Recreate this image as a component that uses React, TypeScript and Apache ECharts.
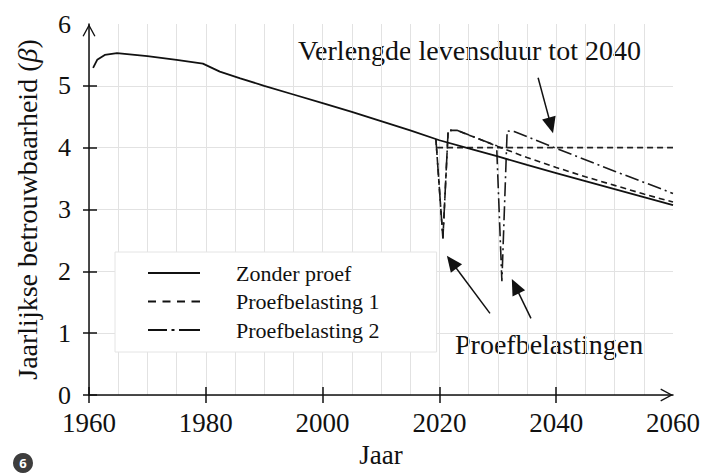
import React, { useEffect, useRef } from "react";
import * as echarts from "echarts";

const SERIF = "Liberation Serif, Times New Roman, serif";

// Data
const baseYears = [1960.7, 1961.4, 1962.7, 1964.8, 1970, 1975, 1979.5, 1982.4, 1985.9, 1990, 1995, 2000, 2005, 2010, 2015, 2020, 2025, 2030, 2035, 2040, 2045, 2050, 2055, 2060];
const zonderProef = [5.29, 5.42, 5.5, 5.53, 5.48, 5.42, 5.36, 5.23, 5.12, 5.0, 4.86, 4.72, 4.58, 4.43, 4.28, 4.12, 3.99, 3.86, 3.72, 3.59, 3.46, 3.33, 3.2, 3.07];

const p1Years = [2019.4, 2020.6, 2021.5, 2023.0, 2030, 2035, 2040, 2045, 2050, 2055, 2060];
const proefbelasting1 = [4.14, 2.53, 4.28, 4.28, 4.02, 3.84, 3.68, 3.53, 3.39, 3.25, 3.12];

const p2Years = [2019.4, 2020.6, 2021.5, 2023.0, 2029.8, 2030.7, 2031.6, 2032.8, 2040, 2050, 2060];
const proefbelasting2 = [4.14, 2.53, 4.28, 4.28, 4.03, 1.84, 4.27, 4.26, 3.99, 3.62, 3.26];

const normYears = [2019.6, 2060];
const normLevel = [4.0, 4.0];

const xTickInterval = 20;
const yTickInterval = 1;
const xTickValues = [1960, 1980, 2000, 2020, 2040];
const yTickValues = [0, 1, 2, 3, 4, 5];

const seriesNames = ["Zonder proef", "Proefbelasting 1", "Proefbelasting 2"];

// annotation arrows [from, to] in data coordinates
const arrowsFrom = [[2036.9, 5.13], [2028.66, 1.32], [2035.68, 1.24]];
const arrowsTo = [[2039.1, 4.36], [2022.1, 2.15], [2033.0, 1.76]];

const zip = (xs: number[], ys: number[]) => xs.map((x, i) => [x, ys[i]]);

const CHEVRON = "path://M0,0 L6.5,12 L5.3,12.6 L0,2.7 L-5.3,12.6 L-6.5,12 Z";
const ICON_SOLID = "path://M0,0 H52 V1.8 H0 Z";
const ICON_DASH = "path://M0,0 H8 V1.8 H0 Z M14.5,0 H22.5 V1.8 H14.5 Z M29,0 H37 V1.8 H29 Z M43.5,0 H52 V1.8 H43.5 Z";
const ICON_DASHDOT = "path://M0,0 H19 V1.8 H0 Z M23.5,0 H26.5 V1.8 H23.5 Z M31,0 H52 V1.8 H31 Z";

export default function App() {
  const ref = useRef<HTMLDivElement>(null);
  useEffect(() => {
    if (!ref.current) return;
    const chart = echarts.init(ref.current, undefined, { renderer: "svg" });
    const axisColor = "#111";
    const gridColor = "#e2e2e2";
    const option: any = {
      animation: false,
      backgroundColor: "#ffffff",
      textStyle: { fontFamily: SERIF },
      grid: { left: 89, right: 30, top: 24, bottom: 72, containLabel: false },
      legend: {
        data: [
          { name: seriesNames[0], icon: ICON_SOLID },
          { name: seriesNames[1], icon: ICON_DASH },
          { name: seriesNames[2], icon: ICON_DASHDOT },
        ],
        orient: "vertical",
        left: 115,
        top: 252,
        itemWidth: 52,
        itemHeight: 14,
        itemGap: 6.5,
        padding: [10, 57, 11, 33],
        backgroundColor: "#ffffff",
        borderColor: "#e4e4e4",
        borderWidth: 1,
        selectedMode: false,
        itemStyle: { color: "#111", borderWidth: 0 },
        lineStyle: { width: 0 },
        textStyle: { fontFamily: SERIF, fontSize: 22, color: "#111", padding: [0, 0, 0, 31] },
      },
      xAxis: [
        {
          type: "value",
          min: 1960,
          max: 2060,
          interval: xTickInterval,
          position: "bottom",
          name: "Jaar",
          nameLocation: "middle",
          nameGap: 46,
          nameTextStyle: { fontFamily: SERIF, fontSize: 27, color: axisColor },
          axisLine: {
            show: true,
            onZero: false,
            lineStyle: { color: axisColor, width: 1.5 },
            symbol: ["none", CHEVRON],
            symbolSize: [13, 12.6],
            symbolOffset: [0, -6.3],
          },
          axisTick: { show: true, length: 8, customValues: xTickValues, lineStyle: { color: axisColor, width: 1.5 } },
          axisLabel: {
            fontFamily: SERIF,
            fontSize: 27,
            color: axisColor,
            margin: 14,
            formatter: (v: number) => String(v),
          },
          splitLine: { show: true, lineStyle: { color: gridColor, width: 1 } },
          minorTick: { show: false, splitNumber: 4 },
          minorSplitLine: { show: true, lineStyle: { color: gridColor, width: 1 } },
        },
        {
          type: "value",
          min: 1960,
          max: 2060,
          interval: xTickInterval,
          position: "bottom",
          offset: 0,
          axisLine: { show: false },
          axisTick: { show: true, inside: true, length: 8, customValues: xTickValues, lineStyle: { color: axisColor, width: 1.5 } },
          axisLabel: { show: false },
          splitLine: { show: false },
        },
      ],
      yAxis: [
        {
          type: "value",
          min: 0,
          max: 6,
          interval: yTickInterval,
          position: "left",
          name: "Jaarlijkse betrouwbaarheid ({i|β})",
          nameLocation: "middle",
          nameGap: 48,
          nameRotate: 90,
          nameTextStyle: {
            fontFamily: SERIF,
            fontSize: 28,
            color: axisColor,
            rich: { i: { fontFamily: SERIF, fontSize: 28, fontStyle: "italic", color: axisColor } },
          },
          axisLine: {
            show: true,
            onZero: false,
            lineStyle: { color: axisColor, width: 1.5 },
            symbol: ["none", CHEVRON],
            symbolSize: [13, 12.6],
            symbolOffset: [0, -6.3],
          },
          axisTick: { show: true, length: 6, customValues: yTickValues, lineStyle: { color: axisColor, width: 1.5 } },
          axisLabel: { fontFamily: SERIF, fontSize: 26, color: axisColor, margin: 18 },
          splitLine: { show: true, lineStyle: { color: gridColor, width: 1 } },
        },
        {
          type: "value",
          min: 0,
          max: 6,
          interval: yTickInterval,
          position: "left",
          offset: 0,
          axisLine: { show: false },
          axisTick: { show: true, inside: true, length: 8, customValues: yTickValues, lineStyle: { color: axisColor, width: 1.5 } },
          axisLabel: { show: false },
          splitLine: { show: false },
        },
      ],
      series: [
        {
          name: "Norm",
          type: "line",
          data: zip(normYears, normLevel),
          showSymbol: false,
          symbol: "none",
          silent: true,
          lineStyle: { color: "#222", width: 1.6, type: [6, 4] },
          z: 3,
        },
        {
          name: seriesNames[2],
          type: "line",
          data: zip(p2Years, proefbelasting2),
          showSymbol: false,
          symbol: "none",
          color: "#1a1a1a",
          lineStyle: { color: "#1a1a1a", width: 1.6, type: [14, 4, 2, 4] },
          z: 4,
        },
        {
          name: seriesNames[1],
          type: "line",
          data: zip(p1Years, proefbelasting1),
          showSymbol: false,
          symbol: "none",
          color: "#1a1a1a",
          lineStyle: { color: "#1a1a1a", width: 1.6, type: [6, 4] },
          z: 4,
        },
        {
          name: seriesNames[0],
          type: "line",
          data: zip(baseYears, zonderProef),
          showSymbol: false,
          symbol: "none",
          color: "#111",
          lineStyle: { color: "#111", width: 1.8, type: "solid" },
          z: 5,
          markLine: {
            silent: true,
            symbol: ["none", "triangle"],
            symbolSize: [14, 16],
            label: { show: false },
            lineStyle: { color: "#111", type: "solid", width: 1.5 },
            emphasis: { disabled: true },
            data: arrowsFrom.map((f, i) => [{ coord: f }, { coord: arrowsTo[i] }]),
          },
        },
      ],
      graphic: [
        {
          type: "text",
          left: 298,
          top: 36,
          style: { text: "Verlengde levensduur tot 2040", fontSize: 28, fontFamily: SERIF, fill: "#111" },
        },
        {
          type: "text",
          left: 455,
          top: 330,
          style: { text: "Proefbelastingen", fontSize: 28, fontFamily: SERIF, fill: "#111" },
        },
        {
          type: "circle",
          shape: { cx: 23, cy: 463, r: 10 },
          style: { fill: "#3d3d3d" },
        },
        {
          type: "text",
          x: 23,
          y: 463,
          style: {
            text: "6",
            fontSize: 13,
            fontWeight: "bold",
            fontFamily: "Open Sans, sans-serif",
            fill: "#ffffff",
            align: "center",
            verticalAlign: "middle",
          },
        },
      ],
    };
    chart.setOption(option);
    return () => chart.dispose();
  }, []);
  return (
    <div
      ref={ref}
      style={{ position: "fixed", left: 0, top: 0, width: 703, height: 473, background: "#fff" }}
    />
  );
}
